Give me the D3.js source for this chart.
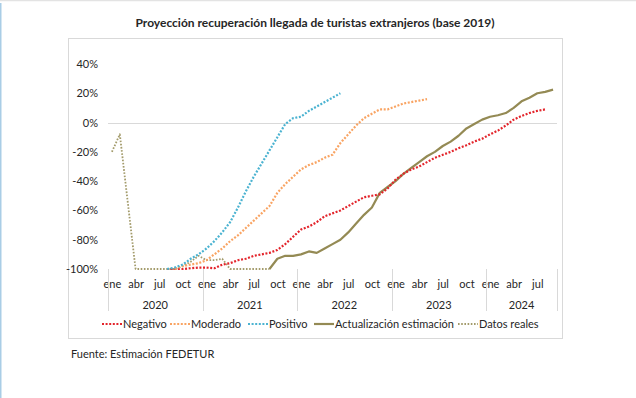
<!DOCTYPE html>
<html>
<head>
<meta charset="utf-8">
<script src="https://cdn.jsdelivr.net/npm/d3@7"></script>
<style>
  html, body { margin: 0; padding: 0; background: #fff; }
  svg { display: block; }
  text { font-family: Lato, "Open Sans", sans-serif; fill: #262626; }
</style>
</head>
<body>
<svg id="chart" width="636" height="398"></svg>
<script>
// ---------- DATA ----------
const title = "Proyección recuperación llegada de turistas extranjeros (base 2019)";
const source = "Fuente: Estimación FEDETUR";
const monthNames = ["ene","feb","mar","abr","may","jun","jul","ago","sep","oct","nov","dic"];
const years = ["2020","2021","2022","2023","2024"];
const monthsInYear = [12, 12, 12, 12, 9];
const yTicks = [-100, -80, -60, -40, -20, 0, 20, 40];
const seriesNames = ["Negativo", "Moderado", "Positivo", "Actualización estimación", "Datos reales"];

const _ = null;
// index 0 = ene 2020 ... 56 = sep 2024
const negativo = [
  _,_,_,_,_,_,_,-100,-100,-100,-99.5,-99,-99,-99.5,-97,-96,-94,-93,-91,-90,
  -89,-87,-83,-78,-73,-71,-68,-64,-62,-60,-57,-54,-51,-50,-49,-45,-39,-35,-32,-30,
  -27,-24,-22,-20,-17.5,-15.5,-13,-11,-8,-5.5,-2,2,4.5,6.5,8,9,_
];
const moderado = [
  _,_,_,_,_,_,_,_,-100,-98,-97,-96,-94,-90,-86,-81,-77,-72,-67,-62,
  -57,-48,-42,-37,-32,-29,-27,-24,-22,-14,-8,-2,3,6,9,9,11,13,14,15,
  16,_,_,_,_,_,_,_,_,_,_,_,_,_,_,_,_
];
const positivo = [
  _,_,_,_,_,_,_,-100,-99,-97,-93,-90,-86,-81,-75,-68,-58,-47,-37,-28,
  -19,-10,-1,3,4,8,11,14,17,20,_,_,_,_,_,_,_,_,_,_,
  _,_,_,_,_,_,_,_,_,_,_,_,_,_,_,_,_
];
const actualizacion = [
  _,_,_,_,_,_,_,_,_,_,_,_,_,_,_,_,_,_,_,_,
  -100,-93,-91,-91,-90,-88,-89,-86,-83,-80,-75,-69,-63,-58,-48,-44,-40,-35,-31,-27,
  -23,-20,-16,-13,-9,-4,-1,2,4,5,6.5,10,14.5,17,20,21,22.5
];
const datosReales = [
  -20,-8,-54,-100,-100,-100,-100,-100,-100,-98,-95,-91,-94,-94,-93,-100,-100,-100,-100,-100,
  -100,_,_,_,_,_,_,_,_,_,_,_,_,_,_,_,_,_,_,_,
  _,_,_,_,_,_,_,_,_,_,_,_,_,_,_,_,_
];

// ---------- LAYOUT ----------
const svg = d3.select("#chart");
const nMonths = d3.sum(monthsInYear);
const plot = { left: 108, right: 557, top: 64, bottom: 269 };

const x = d3.scaleLinear().domain([-0.5, nMonths - 0.5]).range([plot.left, plot.right]);
const y = d3.scaleLinear().domain([-100, 40]).range([plot.bottom, plot.top]);

// page decorations
svg.append("line").attr("x1", 0).attr("x2", 636).attr("y1", 0.5).attr("y2", 0.5)
  .attr("stroke", "#e3e3e3").attr("stroke-width", 1.5);
svg.append("line").attr("x1", 0.75).attr("x2", 0.75).attr("y1", 3).attr("y2", 398)
  .attr("stroke", "#a9cde6").attr("stroke-width", 1.5);

// chart frame
svg.append("rect").attr("x", 68.5).attr("y", 38.5).attr("width", 494).attr("height", 300)
  .attr("fill", "#fff").attr("stroke", "#d9d9d9").attr("stroke-width", 1);

// title
svg.append("text").attr("x", 315).attr("y", 27).attr("text-anchor", "middle")
  .attr("font-size", 12).attr("font-weight", "bold").attr("fill", "#1a1a1a")
  .text(title);

// zero line
svg.append("line").attr("x1", plot.left).attr("x2", plot.right)
  .attr("y1", Math.round(y(0)) + 0.5).attr("y2", Math.round(y(0)) + 0.5)
  .attr("stroke", "#d9d9d9").attr("stroke-width", 1);

// y axis
const yAxis = d3.axisLeft(y).tickValues(yTicks).tickSize(0).tickPadding(0)
  .tickFormat(d => d + "%");
const gy = svg.append("g").attr("transform", `translate(98,0)`).call(yAxis);
gy.select(".domain").remove();
gy.selectAll("text").attr("font-size", 11).attr("font-family", "Lato, sans-serif").attr("fill", "#262626");

// x axis: month labels
const monthIdx = d3.range(nMonths);
const xAxis = d3.axisBottom(x).tickValues(monthIdx.filter(i => i % 3 === 0)).tickSize(0).tickPadding(0)
  .tickFormat(i => monthNames[i % 12]);
const gx = svg.append("g").attr("transform", `translate(0,280)`).call(xAxis);
gx.select(".domain").remove();
gx.selectAll("text").attr("font-size", 11).attr("font-family", "Lato, sans-serif").attr("fill", "#262626");

// year separators and labels
let start = 0;
const bounds = [0];
years.forEach((yr, k) => {
  const end = start + monthsInYear[k];
  bounds.push(end);
  svg.append("text").attr("x", (x(start - 0.5) + x(end - 0.5)) / 2).attr("y", 309)
    .attr("text-anchor", "middle").attr("font-size", 11).text(yr);
  start = end;
});
bounds.forEach(b => {
  const px = Math.round(x(b - 0.5)) + 0.5;
  svg.append("line").attr("x1", px).attr("x2", px).attr("y1", 269).attr("y2", 311)
    .attr("stroke", "#d9d9d9").attr("stroke-width", 1);
});

// series
const styles = [
  { data: negativo, color: "#e3242b", dash: "2,1.6", width: 2.2 },
  { data: moderado, color: "#f9a463", dash: "2,1.6", width: 2.2 },
  { data: positivo, color: "#4bb3d1", dash: "2,1.6", width: 2.2 },
  { data: actualizacion, color: "#948a54", dash: null, width: 2.2 },
  { data: datosReales, color: "#a39b6b", dash: "1.6,1.6", width: 1.8 }
];
const line = d3.line().defined(d => d.v !== null).x(d => x(d.i)).y(d => y(d.v));

// draw in order so that estimation is under the dotted scenarios like in reference
const drawOrder = [4, 3, 0, 1, 2];
drawOrder.forEach(k => {
  const s = styles[k];
  const pts = s.data.map((v, i) => ({ i, v }));
  svg.append("path").datum(pts).attr("d", line)
    .attr("fill", "none").attr("stroke", s.color).attr("stroke-width", s.width)
    .attr("stroke-dasharray", s.dash).attr("stroke-linejoin", "round");
});

// legend
const legendX = [102, 170, 248, 314, 458];
seriesNames.forEach((name, k) => {
  const s = styles[k];
  const lx = legendX[k];
  svg.append("line").attr("x1", lx).attr("x2", lx + 20).attr("y1", 324).attr("y2", 324)
    .attr("stroke", s.color).attr("stroke-width", s.width).attr("stroke-dasharray", s.dash);
  svg.append("text").attr("x", lx + 21).attr("y", 328).attr("font-size", 11).text(name);
});

// source
svg.append("text").attr("x", 71).attr("y", 358).attr("font-size", 11).text(source);
</script>
</body>
</html>
